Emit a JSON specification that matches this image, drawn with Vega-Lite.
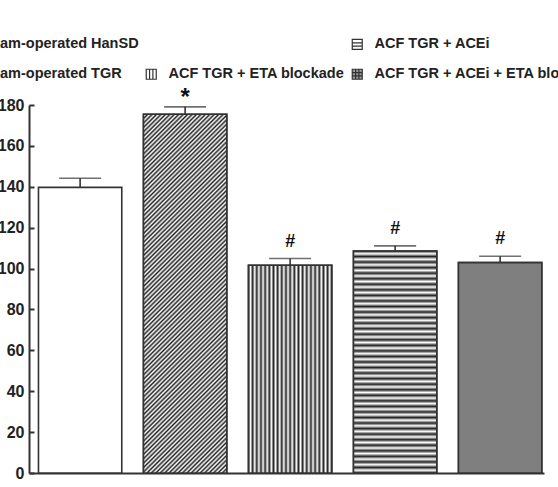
{
  "$schema": "https://vega.github.io/schema/vega-lite/v6.json",
  "width": 515,
  "height": 368,
  "autosize": {"type": "none"},
  "padding": {"left": 29, "top": 105, "right": 14, "bottom": 14},
  "background": "white",
  "config": {"view": {"stroke": null}, "font": "Liberation Sans"},
  "data": {"values": [
    {"group": "Sham-operated HanSD", "value": 139.7, "upper": 144.2, "sig": ""},
    {"group": "Sham-operated TGR", "value": 175.5, "upper": 179.1, "sig": "*"},
    {"group": "ACF TGR + ETA blockade", "value": 101.6, "upper": 104.9, "sig": "#"},
    {"group": "ACF TGR + ACEi", "value": 108.6, "upper": 111.1, "sig": "#"},
    {"group": "ACF TGR + ACEi + ETA blockade", "value": 102.9, "upper": 106.0, "sig": "#"}
  ]},
  "encoding": {
    "x": {"field": "group", "type": "nominal", "sort": null,
      "scale": {"domain": ["Sham-operated HanSD", "Sham-operated TGR", "ACF TGR + ETA blockade", "ACF TGR + ACEi", "ACF TGR + ACEi + ETA blockade"],
        "paddingInner": 0.2067, "paddingOuter": 0.0557, "align": 0.81},
      "axis": {"labels": false, "ticks": false, "title": null, "domainWidth": 2, "domainColor": "#333"}},
    "y": {"field": "value", "type": "quantitative", "scale": {"domain": [0, 180]},
      "axis": {"title": null, "values": [0, 20, 40, 60, 80, 100, 120, 140, 160, 180], "grid": false,
        "labelFont": "Liberation Sans", "labelFontWeight": "bold", "labelFontSize": 16, "labelColor": "#222",
        "tickSize": -5, "tickWidth": 2, "tickColor": "#333", "domainWidth": 2, "domainColor": "#333", "labelPadding": 10}}
  },
  "layer": [
    {
      "mark": {"type": "point", "opacity": 0, "filled": true, "stroke": "#333"},
      "encoding": {
        "fill": {"field": "group", "type": "nominal",
          "scale": {
            "domain": ["Sham-operated HanSD", "Sham-operated TGR", " ", "ACF TGR + ETA blockade", "ACF TGR + ACEi", "ACF TGR + ACEi + ETA blockade"],
            "range": ["white", "white", "transparent", "white", "white", "#9a9a9a"]},
          "legend": {"orient": "none", "legendX": -72, "legendY": -68, "columns": 3, "title": null,
            "symbolSize": 100, "symbolStrokeColor": "#333", "symbolStrokeWidth": 1.2, "symbolOpacity": 1,
            "labelFont": "Liberation Sans", "labelFontSize": 14.5, "labelFontWeight": "bold", "labelColor": "#222", "labelLimit": 400,
            "columnPadding": 4, "rowPadding": 14, "labelOffset": 10, "padding": 0,
            "encode": {"symbols": {"update": {"stroke": {"value": "#333"}, "strokeWidth": {"value": 1.2}, "strokeOpacity": {"value": 1}, "opacity": {"value": 1}}}}}},
        "shape": {"field": "group", "type": "nominal",
          "scale": {
            "domain": ["Sham-operated HanSD", "Sham-operated TGR", " ", "ACF TGR + ETA blockade", "ACF TGR + ACEi", "ACF TGR + ACEi + ETA blockade"],
            "range": [
              "M-1,-1H1V1H-1Z",
              "M-1,-1H1V1H-1Z M-1,0L0,-1 M-1,1L1,-1 M0,1L1,0",
              "M0,0",
              "M-1,-1H1V1H-1Z M-0.33,-1V1 M0.33,-1V1",
              "M-1,-1H1V1H-1Z M-1,-0.33H1 M-1,0.33H1",
              "M-1,-1H1V1H-1Z M-0.33,-1V1 M0.33,-1V1 M-1,-0.33H1 M-1,0.33H1"
            ]},
          "legend": {"orient": "none", "legendX": -72, "legendY": -68, "columns": 3, "title": null,
            "symbolSize": 100, "symbolStrokeColor": "#333", "symbolStrokeWidth": 1.2, "symbolOpacity": 1,
            "labelFont": "Liberation Sans", "labelFontSize": 14.5, "labelFontWeight": "bold", "labelColor": "#222", "labelLimit": 400,
            "columnPadding": 4, "rowPadding": 14, "labelOffset": 10, "padding": 0,
            "encode": {"symbols": {"update": {"stroke": {"value": "#333"}, "strokeWidth": {"value": 1.2}, "strokeOpacity": {"value": 1}, "opacity": {"value": 1}}}}}}
      }
    },
    {
      "mark": {"type": "bar", "stroke": "#333", "strokeWidth": 1.6, "fill": "white"},
      "encoding": {}
    },
    {
      "transform": [{"filter": "datum.group === 'ACF TGR + ACEi + ETA blockade'"}],
      "mark": {"type": "bar", "stroke": "#333", "strokeWidth": 1.6, "fill": "#7f7f7f"},
      "encoding": {}
    },
    {
      "transform": [{"filter": "datum.group === 'Sham-operated TGR'"}],
      "mark": {"type": "bar", "stroke": "#333", "strokeWidth": 1.6,
        "fill": {"gradient": "linear", "x1": 0, "y1": 0, "x2": 0.2702, "y2": 1.1688, "stops": [
          {"offset": 0, "color": "#222"}, {"offset": 0.005, "color": "#fff"}, {"offset": 0.01, "color": "#222"}, {"offset": 0.015, "color": "#fff"},
          {"offset": 0.02, "color": "#222"}, {"offset": 0.025, "color": "#fff"}, {"offset": 0.03, "color": "#222"}, {"offset": 0.035, "color": "#fff"},
          {"offset": 0.04, "color": "#222"}, {"offset": 0.045, "color": "#fff"}, {"offset": 0.05, "color": "#222"}, {"offset": 0.055, "color": "#fff"},
          {"offset": 0.06, "color": "#222"}, {"offset": 0.065, "color": "#fff"}, {"offset": 0.07, "color": "#222"}, {"offset": 0.075, "color": "#fff"},
          {"offset": 0.08, "color": "#222"}, {"offset": 0.085, "color": "#fff"}, {"offset": 0.09, "color": "#222"}, {"offset": 0.095, "color": "#fff"},
          {"offset": 0.1, "color": "#222"}, {"offset": 0.105, "color": "#fff"}, {"offset": 0.11, "color": "#222"}, {"offset": 0.115, "color": "#fff"},
          {"offset": 0.12, "color": "#222"}, {"offset": 0.125, "color": "#fff"}, {"offset": 0.13, "color": "#222"}, {"offset": 0.135, "color": "#fff"},
          {"offset": 0.14, "color": "#222"}, {"offset": 0.145, "color": "#fff"}, {"offset": 0.15, "color": "#222"}, {"offset": 0.155, "color": "#fff"},
          {"offset": 0.16, "color": "#222"}, {"offset": 0.165, "color": "#fff"}, {"offset": 0.17, "color": "#222"}, {"offset": 0.175, "color": "#fff"},
          {"offset": 0.18, "color": "#222"}, {"offset": 0.185, "color": "#fff"}, {"offset": 0.19, "color": "#222"}, {"offset": 0.195, "color": "#fff"},
          {"offset": 0.2, "color": "#222"}, {"offset": 0.205, "color": "#fff"}, {"offset": 0.21, "color": "#222"}, {"offset": 0.215, "color": "#fff"},
          {"offset": 0.22, "color": "#222"}, {"offset": 0.225, "color": "#fff"}, {"offset": 0.23, "color": "#222"}, {"offset": 0.235, "color": "#fff"},
          {"offset": 0.24, "color": "#222"}, {"offset": 0.245, "color": "#fff"}, {"offset": 0.25, "color": "#222"}, {"offset": 0.255, "color": "#fff"},
          {"offset": 0.26, "color": "#222"}, {"offset": 0.265, "color": "#fff"}, {"offset": 0.27, "color": "#222"}, {"offset": 0.275, "color": "#fff"},
          {"offset": 0.28, "color": "#222"}, {"offset": 0.285, "color": "#fff"}, {"offset": 0.29, "color": "#222"}, {"offset": 0.295, "color": "#fff"},
          {"offset": 0.3, "color": "#222"}, {"offset": 0.305, "color": "#fff"}, {"offset": 0.31, "color": "#222"}, {"offset": 0.315, "color": "#fff"},
          {"offset": 0.32, "color": "#222"}, {"offset": 0.325, "color": "#fff"}, {"offset": 0.33, "color": "#222"}, {"offset": 0.335, "color": "#fff"},
          {"offset": 0.34, "color": "#222"}, {"offset": 0.345, "color": "#fff"}, {"offset": 0.35, "color": "#222"}, {"offset": 0.355, "color": "#fff"},
          {"offset": 0.36, "color": "#222"}, {"offset": 0.365, "color": "#fff"}, {"offset": 0.37, "color": "#222"}, {"offset": 0.375, "color": "#fff"},
          {"offset": 0.38, "color": "#222"}, {"offset": 0.385, "color": "#fff"}, {"offset": 0.39, "color": "#222"}, {"offset": 0.395, "color": "#fff"},
          {"offset": 0.4, "color": "#222"}, {"offset": 0.405, "color": "#fff"}, {"offset": 0.41, "color": "#222"}, {"offset": 0.415, "color": "#fff"},
          {"offset": 0.42, "color": "#222"}, {"offset": 0.425, "color": "#fff"}, {"offset": 0.43, "color": "#222"}, {"offset": 0.435, "color": "#fff"},
          {"offset": 0.44, "color": "#222"}, {"offset": 0.445, "color": "#fff"}, {"offset": 0.45, "color": "#222"}, {"offset": 0.455, "color": "#fff"},
          {"offset": 0.46, "color": "#222"}, {"offset": 0.465, "color": "#fff"}, {"offset": 0.47, "color": "#222"}, {"offset": 0.475, "color": "#fff"},
          {"offset": 0.48, "color": "#222"}, {"offset": 0.485, "color": "#fff"}, {"offset": 0.49, "color": "#222"}, {"offset": 0.495, "color": "#fff"},
          {"offset": 0.5, "color": "#222"}, {"offset": 0.505, "color": "#fff"}, {"offset": 0.51, "color": "#222"}, {"offset": 0.515, "color": "#fff"},
          {"offset": 0.52, "color": "#222"}, {"offset": 0.525, "color": "#fff"}, {"offset": 0.53, "color": "#222"}, {"offset": 0.535, "color": "#fff"},
          {"offset": 0.54, "color": "#222"}, {"offset": 0.545, "color": "#fff"}, {"offset": 0.55, "color": "#222"}, {"offset": 0.555, "color": "#fff"},
          {"offset": 0.56, "color": "#222"}, {"offset": 0.565, "color": "#fff"}, {"offset": 0.57, "color": "#222"}, {"offset": 0.575, "color": "#fff"},
          {"offset": 0.58, "color": "#222"}, {"offset": 0.585, "color": "#fff"}, {"offset": 0.59, "color": "#222"}, {"offset": 0.595, "color": "#fff"},
          {"offset": 0.6, "color": "#222"}, {"offset": 0.605, "color": "#fff"}, {"offset": 0.61, "color": "#222"}, {"offset": 0.615, "color": "#fff"},
          {"offset": 0.62, "color": "#222"}, {"offset": 0.625, "color": "#fff"}, {"offset": 0.63, "color": "#222"}, {"offset": 0.635, "color": "#fff"},
          {"offset": 0.64, "color": "#222"}, {"offset": 0.645, "color": "#fff"}, {"offset": 0.65, "color": "#222"}, {"offset": 0.655, "color": "#fff"},
          {"offset": 0.66, "color": "#222"}, {"offset": 0.665, "color": "#fff"}, {"offset": 0.67, "color": "#222"}, {"offset": 0.675, "color": "#fff"},
          {"offset": 0.68, "color": "#222"}, {"offset": 0.685, "color": "#fff"}, {"offset": 0.69, "color": "#222"}, {"offset": 0.695, "color": "#fff"},
          {"offset": 0.7, "color": "#222"}, {"offset": 0.705, "color": "#fff"}, {"offset": 0.71, "color": "#222"}, {"offset": 0.715, "color": "#fff"},
          {"offset": 0.72, "color": "#222"}, {"offset": 0.725, "color": "#fff"}, {"offset": 0.73, "color": "#222"}, {"offset": 0.735, "color": "#fff"},
          {"offset": 0.74, "color": "#222"}, {"offset": 0.745, "color": "#fff"}, {"offset": 0.75, "color": "#222"}, {"offset": 0.755, "color": "#fff"},
          {"offset": 0.76, "color": "#222"}, {"offset": 0.765, "color": "#fff"}, {"offset": 0.77, "color": "#222"}, {"offset": 0.775, "color": "#fff"},
          {"offset": 0.78, "color": "#222"}, {"offset": 0.785, "color": "#fff"}, {"offset": 0.79, "color": "#222"}, {"offset": 0.795, "color": "#fff"},
          {"offset": 0.8, "color": "#222"}, {"offset": 0.805, "color": "#fff"}, {"offset": 0.81, "color": "#222"}, {"offset": 0.815, "color": "#fff"},
          {"offset": 0.82, "color": "#222"}, {"offset": 0.825, "color": "#fff"}, {"offset": 0.83, "color": "#222"}, {"offset": 0.835, "color": "#fff"},
          {"offset": 0.84, "color": "#222"}, {"offset": 0.845, "color": "#fff"}, {"offset": 0.85, "color": "#222"}, {"offset": 0.855, "color": "#fff"},
          {"offset": 0.86, "color": "#222"}, {"offset": 0.865, "color": "#fff"}, {"offset": 0.87, "color": "#222"}, {"offset": 0.875, "color": "#fff"},
          {"offset": 0.88, "color": "#222"}, {"offset": 0.885, "color": "#fff"}, {"offset": 0.89, "color": "#222"}, {"offset": 0.895, "color": "#fff"},
          {"offset": 0.9, "color": "#222"}, {"offset": 0.905, "color": "#fff"}, {"offset": 0.91, "color": "#222"}, {"offset": 0.915, "color": "#fff"},
          {"offset": 0.92, "color": "#222"}, {"offset": 0.925, "color": "#fff"}, {"offset": 0.93, "color": "#222"}, {"offset": 0.935, "color": "#fff"},
          {"offset": 0.94, "color": "#222"}, {"offset": 0.945, "color": "#fff"}, {"offset": 0.95, "color": "#222"}, {"offset": 0.955, "color": "#fff"},
          {"offset": 0.96, "color": "#222"}, {"offset": 0.965, "color": "#fff"}, {"offset": 0.97, "color": "#222"}, {"offset": 0.975, "color": "#fff"},
          {"offset": 0.98, "color": "#222"}, {"offset": 0.985, "color": "#fff"}, {"offset": 0.99, "color": "#222"}, {"offset": 0.995, "color": "#fff"},
          {"offset": 1, "color": "#222"}
        ]}},
      "encoding": {}
    },
    {
      "transform": [{"filter": "datum.group === 'ACF TGR + ACEi'"}],
      "mark": {"type": "bar", "stroke": "#333", "strokeWidth": 1.6,
        "fill": {"gradient": "linear", "x1": 0, "y1": 0, "x2": 0, "y2": 1, "stops": [
          {"offset": 0, "color": "#222"}, {"offset": 0.0125, "color": "#fff"}, {"offset": 0.025, "color": "#222"}, {"offset": 0.0375, "color": "#fff"},
          {"offset": 0.05, "color": "#222"}, {"offset": 0.0625, "color": "#fff"}, {"offset": 0.075, "color": "#222"}, {"offset": 0.0875, "color": "#fff"},
          {"offset": 0.1, "color": "#222"}, {"offset": 0.1125, "color": "#fff"}, {"offset": 0.125, "color": "#222"}, {"offset": 0.1375, "color": "#fff"},
          {"offset": 0.15, "color": "#222"}, {"offset": 0.1625, "color": "#fff"}, {"offset": 0.175, "color": "#222"}, {"offset": 0.1875, "color": "#fff"},
          {"offset": 0.2, "color": "#222"}, {"offset": 0.2125, "color": "#fff"}, {"offset": 0.225, "color": "#222"}, {"offset": 0.2375, "color": "#fff"},
          {"offset": 0.25, "color": "#222"}, {"offset": 0.2625, "color": "#fff"}, {"offset": 0.275, "color": "#222"}, {"offset": 0.2875, "color": "#fff"},
          {"offset": 0.3, "color": "#222"}, {"offset": 0.3125, "color": "#fff"}, {"offset": 0.325, "color": "#222"}, {"offset": 0.3375, "color": "#fff"},
          {"offset": 0.35, "color": "#222"}, {"offset": 0.3625, "color": "#fff"}, {"offset": 0.375, "color": "#222"}, {"offset": 0.3875, "color": "#fff"},
          {"offset": 0.4, "color": "#222"}, {"offset": 0.4125, "color": "#fff"}, {"offset": 0.425, "color": "#222"}, {"offset": 0.4375, "color": "#fff"},
          {"offset": 0.45, "color": "#222"}, {"offset": 0.4625, "color": "#fff"}, {"offset": 0.475, "color": "#222"}, {"offset": 0.4875, "color": "#fff"},
          {"offset": 0.5, "color": "#222"}, {"offset": 0.5125, "color": "#fff"}, {"offset": 0.525, "color": "#222"}, {"offset": 0.5375, "color": "#fff"},
          {"offset": 0.55, "color": "#222"}, {"offset": 0.5625, "color": "#fff"}, {"offset": 0.575, "color": "#222"}, {"offset": 0.5875, "color": "#fff"},
          {"offset": 0.6, "color": "#222"}, {"offset": 0.6125, "color": "#fff"}, {"offset": 0.625, "color": "#222"}, {"offset": 0.6375, "color": "#fff"},
          {"offset": 0.65, "color": "#222"}, {"offset": 0.6625, "color": "#fff"}, {"offset": 0.675, "color": "#222"}, {"offset": 0.6875, "color": "#fff"},
          {"offset": 0.7, "color": "#222"}, {"offset": 0.7125, "color": "#fff"}, {"offset": 0.725, "color": "#222"}, {"offset": 0.7375, "color": "#fff"},
          {"offset": 0.75, "color": "#222"}, {"offset": 0.7625, "color": "#fff"}, {"offset": 0.775, "color": "#222"}, {"offset": 0.7875, "color": "#fff"},
          {"offset": 0.8, "color": "#222"}, {"offset": 0.8125, "color": "#fff"}, {"offset": 0.825, "color": "#222"}, {"offset": 0.8375, "color": "#fff"},
          {"offset": 0.85, "color": "#222"}, {"offset": 0.8625, "color": "#fff"}, {"offset": 0.875, "color": "#222"}, {"offset": 0.8875, "color": "#fff"},
          {"offset": 0.9, "color": "#222"}, {"offset": 0.9125, "color": "#fff"}, {"offset": 0.925, "color": "#222"}, {"offset": 0.9375, "color": "#fff"},
          {"offset": 0.95, "color": "#222"}, {"offset": 0.9625, "color": "#fff"}, {"offset": 0.975, "color": "#222"}, {"offset": 0.9875, "color": "#fff"},
          {"offset": 1, "color": "#222"}
        ]}},
      "encoding": {}
    },
    {
      "transform": [{"filter": "datum.group === 'ACF TGR + ETA blockade'"}],
      "mark": {"type": "bar", "stroke": "#333", "strokeWidth": 1.6,
        "fill": {"gradient": "linear", "x1": 0, "y1": 0, "x2": 1, "y2": 0, "stops": [
          {"offset": 0, "color": "#222"}, {"offset": 0.025, "color": "#fff"}, {"offset": 0.05, "color": "#222"}, {"offset": 0.075, "color": "#fff"},
          {"offset": 0.1, "color": "#222"}, {"offset": 0.125, "color": "#fff"}, {"offset": 0.15, "color": "#222"}, {"offset": 0.175, "color": "#fff"},
          {"offset": 0.2, "color": "#222"}, {"offset": 0.225, "color": "#fff"}, {"offset": 0.25, "color": "#222"}, {"offset": 0.275, "color": "#fff"},
          {"offset": 0.3, "color": "#222"}, {"offset": 0.325, "color": "#fff"}, {"offset": 0.35, "color": "#222"}, {"offset": 0.375, "color": "#fff"},
          {"offset": 0.4, "color": "#222"}, {"offset": 0.425, "color": "#fff"}, {"offset": 0.45, "color": "#222"}, {"offset": 0.475, "color": "#fff"},
          {"offset": 0.5, "color": "#222"}, {"offset": 0.525, "color": "#fff"}, {"offset": 0.55, "color": "#222"}, {"offset": 0.575, "color": "#fff"},
          {"offset": 0.6, "color": "#222"}, {"offset": 0.625, "color": "#fff"}, {"offset": 0.65, "color": "#222"}, {"offset": 0.675, "color": "#fff"},
          {"offset": 0.7, "color": "#222"}, {"offset": 0.725, "color": "#fff"}, {"offset": 0.75, "color": "#222"}, {"offset": 0.775, "color": "#fff"},
          {"offset": 0.8, "color": "#222"}, {"offset": 0.825, "color": "#fff"}, {"offset": 0.85, "color": "#222"}, {"offset": 0.875, "color": "#fff"},
          {"offset": 0.9, "color": "#222"}, {"offset": 0.925, "color": "#fff"}, {"offset": 0.95, "color": "#222"}, {"offset": 0.975, "color": "#fff"},
          {"offset": 1, "color": "#222"}
        ]}},
      "encoding": {}
    },
    {
      "mark": {"type": "rule", "stroke": "#333", "strokeWidth": 1.6},
      "encoding": {"y2": {"field": "upper"}}
    },
    {
      "mark": {"type": "tick", "orient": "horizontal", "color": "#333", "thickness": 1.6, "size": 42},
      "encoding": {"y": {"field": "upper", "type": "quantitative"}}
    },
    {
      "transform": [{"filter": "datum.sig === '#'"}],
      "mark": {"type": "text", "dy": -17, "fontSize": 18, "fontWeight": "bold", "baseline": "middle", "font": "Liberation Sans", "color": "#111"},
      "encoding": {"y": {"field": "upper", "type": "quantitative"}, "text": {"field": "sig"}}
    },
    {
      "transform": [{"filter": "datum.sig === '*'"}],
      "mark": {"type": "text", "dy": -2, "fontSize": 24, "fontWeight": "bold", "baseline": "alphabetic", "font": "Liberation Sans", "color": "#111"},
      "encoding": {"y": {"field": "upper", "type": "quantitative"}, "text": {"field": "sig"}}
    }
  ]
}
